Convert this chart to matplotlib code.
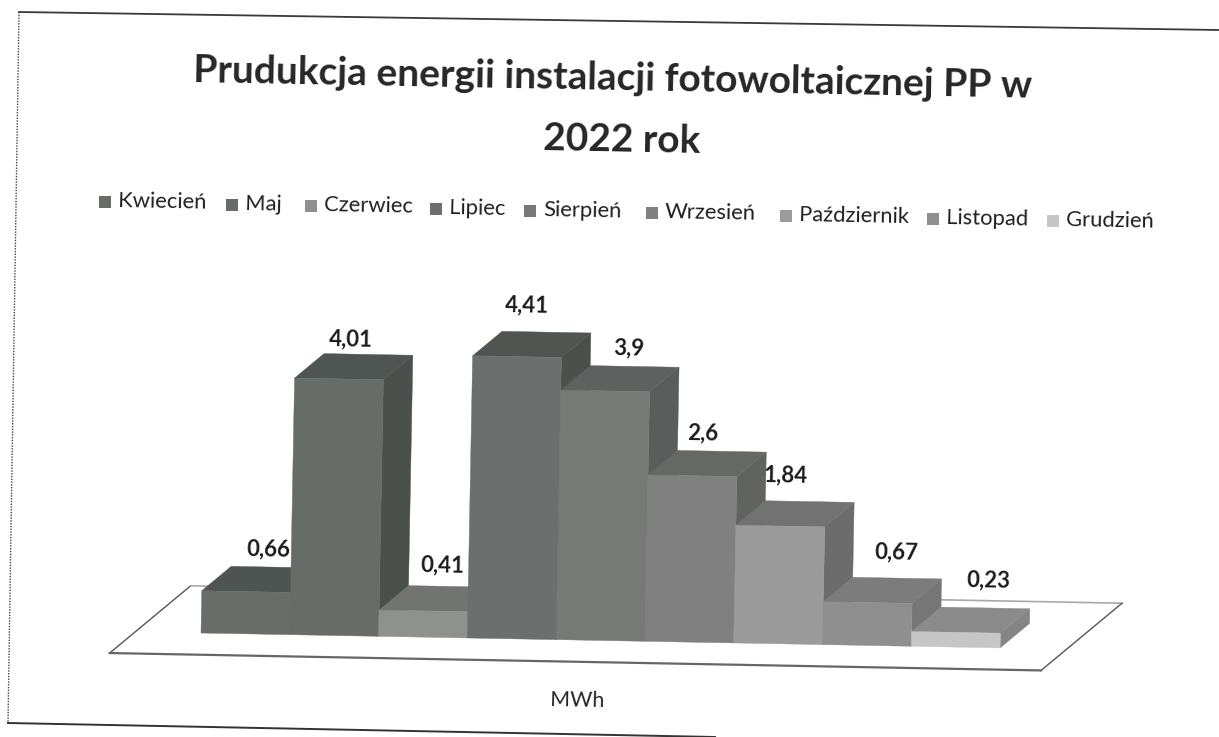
import matplotlib
matplotlib.use('Agg')
from matplotlib import pyplot as plt
from matplotlib.patches import Polygon
from matplotlib.transforms import Affine2D

plt.rcParams['font.family'] = ['Lato', 'DejaVu Sans']

months = ['Kwiecień', 'Maj', 'Czerwiec', 'Lipiec', 'Sierpień', 'Wrzesień',
          'Październik', 'Listopad', 'Grudzień']
values = [0.66, 4.01, 0.41, 4.41, 3.9, 2.6, 1.84, 0.67, 0.23]
value_labels = ['0,66', '4,01', '0,41', '4,41', '3,9', '2,6', '1,84', '0,67', '0,23']

front_colors = ['#696d6a', '#686c69', '#8f918f', '#6c6f6d', '#777977', '#7f807f',
                '#9b9b9b', '#8f8f8f', '#c6c6c6']
top_colors = ['#4e5451', '#4f5552', '#717471', '#505552', '#5d615f', '#666866',
              '#727272', '#7c7c7c', '#8b8b8b']
side_colors = ['#4b504d', '#4b504d', '#6b6e6b', '#4b504d', '#595d5b', '#616361',
               '#6c6c6c', '#767676', '#858585']

# przesuniecia etykiet i pozycje legendy (piksele)
label_dx = [0.75, 0.64, 0.71, 0.61, 0.77, 0.62, 0.56, 0.83, 0.87]
label_dy = [42, 40, 46, 51, 43, 42, 51, 50, 52]
legend_x = [105, 232, 311, 436, 530, 652, 786, 933, 1053]

tilt = 1.07
depth_x = 29 / 88.8
depth_y = 25 / 64

fig = plt.figure(figsize=(12.19, 7.37), dpi=100)
ax = fig.add_axes([0, 0, 1, 1])
ax.set_xlim(0, 1219)
ax.set_ylim(737, 0)
ax.axis('off')

# skany wykres jest lekko obrocony: x w numerach slupkow, y w MWh
chart = Affine2D().scale(88.8, -64).rotate_deg(tilt).translate(201, 633) + ax.transData


def pt(x, y, z=0):
    return (x + z * depth_x, y + z * depth_y)


# ramka
ax.plot([19, 1219], [12, 30], color='#3a3a3a', lw=1.3)
ax.plot([19, 8], [12, 723], color='#444444', lw=1, ls=(0, (1, 1)))
ax.plot([8, 715], [723, 737], color='#333333', lw=1.4)

# podloga (pod slupkami)
floor = [pt(-0.74, 0, -0.87), pt(-0.74, 0, 1.88), pt(9.75, 0, 1.88), pt(9.75, 0, -0.87)]
ax.plot(*zip(floor[0], floor[1]), color='#555555', lw=1, transform=chart, zorder=0.5)
ax.plot(*zip(floor[1], floor[2]), color='#a8a8a8', lw=1.2, transform=chart, zorder=0.5)
ax.plot(*zip(floor[2], floor[3]), color='#555555', lw=1, transform=chart, zorder=0.5)
ax.plot(*zip(floor[3], floor[0]), color='#666666', lw=1.6, transform=chart, zorder=0.5)

# slupki od lewej do prawej
for i, h in enumerate(values):
    side = [pt(i + 1, 0, 0), pt(i + 1, 0, 1), pt(i + 1, h, 1), pt(i + 1, h, 0)]
    top = [pt(i, h, 0), pt(i, h, 1), pt(i + 1, h, 1), pt(i + 1, h, 0)]
    ax.add_patch(Polygon(side, closed=True, facecolor=side_colors[i], edgecolor=side_colors[i],
                         lw=0.3, transform=chart))
    ax.add_patch(Polygon(top, closed=True, facecolor=top_colors[i], edgecolor=top_colors[i],
                         lw=0.3, transform=chart))
    ax.bar(i + 0.5, h, width=1, color=front_colors[i], edgecolor=front_colors[i], lw=0.3,
           transform=chart)

ax.set_xlim(0, 1219)
ax.set_ylim(737, 0)

# etykiety wartosci
for i, h in enumerate(values):
    px, py = chart.transform((i + label_dx[i], h))
    py = fig.bbox.height - py
    ax.text(px, py - label_dy[i], value_labels[i], fontsize=16, fontweight='bold', color='#1a1a1a',
            ha='center', va='center', rotation=-tilt, rotation_mode='anchor')

# tytul
ax.text(613, 78, 'Prudukcja energii instalacji fotowoltaicznej PP w', fontsize=28, fontweight='bold',
        color='#262626', ha='center', va='center', rotation=-tilt, rotation_mode='anchor')
ax.text(622, 140, '2022 rok', fontsize=28, fontweight='bold', color='#262626',
        ha='center', va='center', rotation=-tilt, rotation_mode='anchor')

# legenda
for i, name in enumerate(months):
    y = 201 + (legend_x[i] - 105) * 0.0205
    ax.plot(legend_x[i], y + 1, marker='s', ms=8, color=front_colors[i], mew=0)
    ax.text(legend_x[i] + 13, y, name, fontsize=15.8, color='#1f1f1f', ha='left', va='center',
            rotation=-tilt, rotation_mode='anchor')

ax.text(577, 701, 'MWh', fontsize=15.5, color='#262626', ha='center', va='center',
        rotation=-tilt, rotation_mode='anchor')

fig.savefig('out.png', dpi=100)
